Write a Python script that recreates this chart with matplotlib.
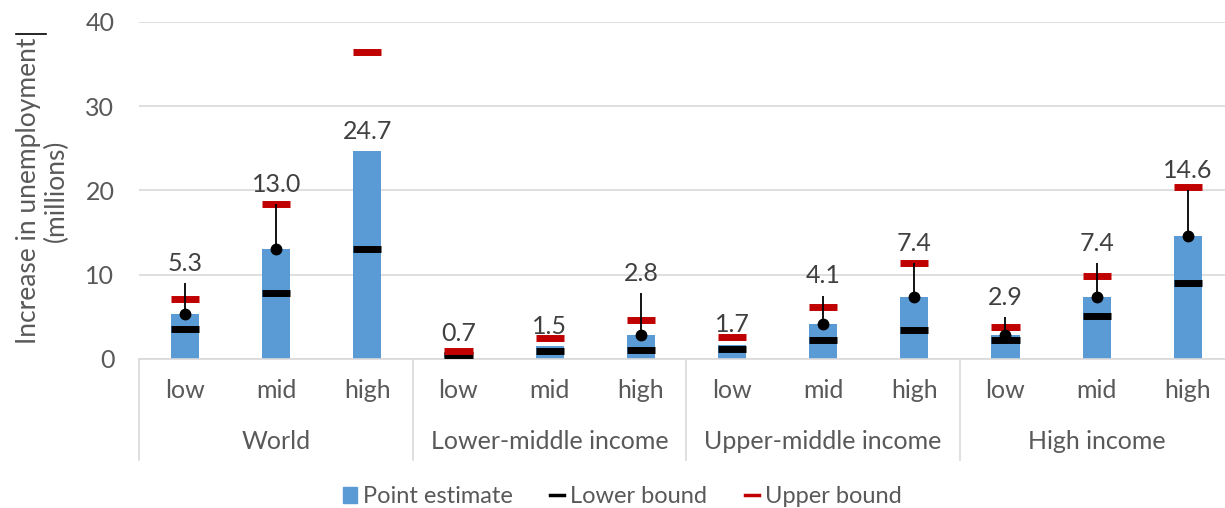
import matplotlib
matplotlib.use("Agg")
import matplotlib.pyplot as plt
import numpy as np
from matplotlib.lines import Line2D
from matplotlib.patches import Patch

plt.rcParams['font.family'] = ['Lato', 'DejaVu Sans']

groups = ["World", "Lower-middle income", "Upper-middle income", "High income"]
scenarios = ["low", "mid", "high"]

point_estimate = [5.3, 13.0, 24.7, 0.7, 1.5, 2.8, 1.7, 4.1, 7.4, 2.9, 7.4, 14.6]
lower_bound = [3.6, 7.8, 13.0, 0.5, 0.9, 1.1, 1.2, 2.2, 3.5, 2.2, 5.1, 9.0]
upper_bound = [7.1, 18.4, 36.4, 1.0, 2.5, 4.6, 2.6, 6.2, 11.4, 3.8, 9.9, 20.4]
# black dot + thin line drawn on some bars (dot at bar top, line up to this value)
whisker_top = [9.0, 18.4, np.nan, np.nan, np.nan, 7.8, np.nan, 7.5, 11.4, 5.0, 11.4, 20.0]

BLUE = "#5b9bd5"
RED = "#c00000"
GRID = "#d9d9d9"
TEXT = "#595959"
FS = 18

fig = plt.figure(figsize=(12.25, 5.08), dpi=100)
ax = fig.add_axes([139.4 / 1225, (508 - 359) / 508, 1094 / 1225, 337 / 508])

x = np.arange(len(point_estimate))
w = 0.31
ax.bar(x, point_estimate, width=w, color=BLUE, zorder=2)
ax.hlines(lower_bound, x - w / 2, x + w / 2, colors="black", lw=5, zorder=3)
ax.hlines(upper_bound, x - w / 2, x + w / 2, colors=RED, lw=5, zorder=3)

pe = np.array(point_estimate)
wt = np.array(whisker_top)
has_dot = ~np.isnan(wt)
ax.vlines(x[has_dot], pe[has_dot], wt[has_dot], colors="black", lw=1.3, zorder=4)
ax.plot(x[has_dot], pe[has_dot], "o", color="black", ms=7.5, zorder=5)

for xi, v, t in zip(x, pe, wt):
    top = v if np.isnan(t) else max(v, t)
    ax.annotate(f"{v:.1f}", (xi, top), xytext=(0, 6), textcoords="offset points",
                ha="center", va="bottom", fontsize=FS, color="#404040")

ax.set_xlim(-0.5, len(x) - 0.5)
ax.set_ylim(0, 40)
ax.set_yticks([0, 10, 20, 30, 40])
ax.yaxis.grid(True, color=GRID, lw=1.2)
ax.set_axisbelow(True)
ax.tick_params(axis="y", length=0, labelsize=FS, labelcolor=TEXT, pad=18)
ax.set_xticks([])
for s in ["left", "right", "top"]:
    ax.spines[s].set_visible(False)
ax.spines["bottom"].set_color(GRID)
ax.spines["bottom"].set_linewidth(1.2)

ax.set_ylabel("Increase in unemployment\n(millions)", fontsize=19, color=TEXT,
              labelpad=12, linespacing=1.15)

trans = ax.get_xaxis_transform()
for i, xi in enumerate(x):
    ax.text(xi, -0.093, scenarios[i % 3], transform=trans, ha="center", va="center",
            fontsize=FS, color=TEXT)
for g, name in enumerate(groups):
    ax.text(3 * g + 1, -0.245, name, transform=trans, ha="center", va="center",
            fontsize=FS, color=TEXT)
for b in range(len(groups) + 1):
    ax.add_line(Line2D([3 * b - 0.5] * 2, [0, -0.30], transform=trans, color=GRID,
                       lw=1.2, clip_on=False))

handles = [Patch(color=BLUE, label="Point estimate"),
           Line2D([], [], color="black", lw=2.5, label="Lower bound"),
           Line2D([], [], color=RED, lw=2.5, label="Upper bound")]
fig.legend(handles=handles, loc="center", bbox_to_anchor=(0.508, 0.022), ncol=3,
           frameon=False, fontsize=17, handlelength=0.6, handletextpad=0.25,
           columnspacing=1.6, labelcolor=TEXT)

# stray short line at the top-left of the original
fig.add_artist(Line2D([16 / 1225, 46 / 1225], [1 - 34 / 508] * 2, color="black", lw=1.2))

fig.savefig("out.png", dpi=100)
